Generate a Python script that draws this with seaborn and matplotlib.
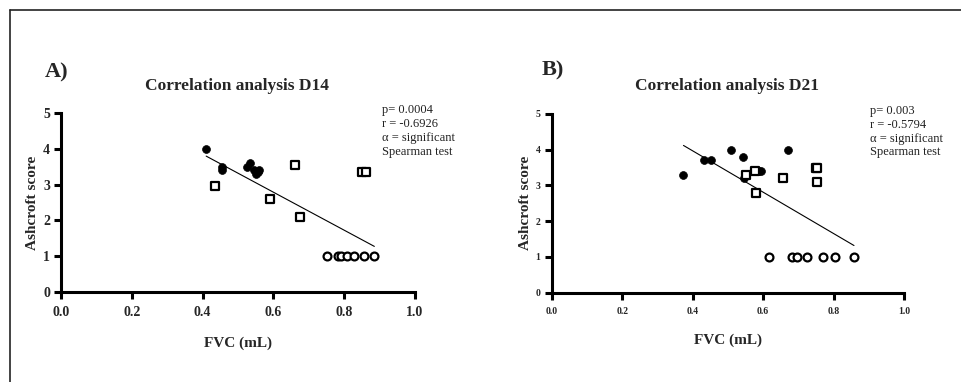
import matplotlib
matplotlib.use("Agg")
import matplotlib.pyplot as plt
import seaborn as sns
from matplotlib.lines import Line2D

# Panel A (D14)
a_filled_x = [0.41, 0.455, 0.455, 0.525, 0.535, 0.545, 0.55, 0.555, 0.56]
a_filled_y = [4.0, 3.5, 3.4, 3.5, 3.6, 3.4, 3.3, 3.35, 3.4]
a_square_x = [0.435, 0.59, 0.66, 0.675, 0.849, 0.861]
a_square_y = [2.95, 2.6, 3.55, 2.1, 3.35, 3.35]
a_open_x = [0.75, 0.783, 0.79, 0.807, 0.828, 0.856, 0.884]
a_open_y = [1, 1, 1, 1, 1, 1, 1]
a_fit_x = [0.41, 0.885]
a_fit_y = [3.8, 1.27]
a_stats = ["p= 0.0004", "r = -0.6926", "\u03b1 = significant", "Spearman test"]

# Panel B (D21)
b_filled_x = [0.372, 0.432, 0.451, 0.508, 0.544, 0.547, 0.588, 0.593, 0.672]
b_filled_y = [3.3, 3.7, 3.7, 4.0, 3.8, 3.2, 3.4, 3.4, 4.0]
b_square_x = [0.551, 0.577, 0.580, 0.656, 0.750, 0.754, 0.754]
b_square_y = [3.3, 3.4, 2.8, 3.2, 3.5, 3.5, 3.1]
b_open_x = [0.616, 0.683, 0.697, 0.726, 0.769, 0.804, 0.858]
b_open_y = [1, 1, 1, 1, 1, 1, 1]
b_fit_x = [0.374, 0.858]
b_fit_y = [4.12, 1.32]
b_stats = ["p= 0.003", "r = -0.5794", "\u03b1 = significant", "Spearman test"]

x_ticks = [0.0, 0.2, 0.4, 0.6, 0.8, 1.0]
y_ticks = [0, 1, 2, 3, 4, 5]

sns.set_theme(style="ticks")
plt.rcParams["font.family"] = ["Liberation Serif", "DejaVu Serif"]

fig = plt.figure(figsize=(9.61, 3.82), dpi=100)
fig.add_artist(Line2D([0.0099, 1.0], [0.975, 0.975], color="#222222", lw=1.2))
fig.add_artist(Line2D([0.0099, 0.0099], [0.0, 0.975], color="#222222", lw=1.2))


def draw_panel(ax, fx, fy, sx, sy, ox, oy, lx, ly, stats, tick_size, stats_x):
    sns.scatterplot(x=fx, y=fy, ax=ax, color="black", marker="o", s=32,
                    edgecolor="black", linewidth=0.5, clip_on=False, zorder=3)
    sns.scatterplot(x=sx, y=sy, ax=ax, marker="s", s=38, facecolor="white",
                    edgecolor="black", linewidth=1.6, clip_on=False, zorder=4)
    sns.scatterplot(x=ox, y=oy, ax=ax, marker="o", s=32, facecolor="white",
                    edgecolor="black", linewidth=1.6, clip_on=False, zorder=4)
    sns.lineplot(x=lx, y=ly, ax=ax, color="black", linewidth=0.8, zorder=2)
    ax.set_xlim(0, 1)
    ax.set_ylim(0, 5)
    ax.set_xticks(x_ticks)
    ax.set_yticks(y_ticks)
    ax.set_xticklabels([f"{t:.1f}" for t in x_ticks], fontweight="bold", fontsize=tick_size)
    ax.set_yticklabels([str(t) for t in y_ticks], fontweight="bold", fontsize=tick_size)
    sns.despine(ax=ax)
    for side in ("left", "bottom"):
        ax.spines[side].set_linewidth(2.2)
        ax.spines[side].set_color("black")
    ax.tick_params(direction="out", length=5, width=2.2, color="black", pad=3)
    ax.tick_params(axis="x", pad=5)
    ax.set_xlabel("FVC (mL)", fontweight="bold", fontsize=11, labelpad=13)
    ax.set_ylabel("Ashcroft score", fontweight="bold", fontsize=11, labelpad=3)
    ax.text(stats_x, 1.05, "\n".join(stats), transform=ax.transAxes, ha="left",
            va="top", fontsize=9, linespacing=1.2, color="#222222")


ax_a = fig.add_axes([0.0635, 0.2364, 0.3684, 0.467])
draw_panel(ax_a, a_filled_x, a_filled_y, a_square_x, a_square_y, a_open_x, a_open_y,
           a_fit_x, a_fit_y, a_stats, 10, 0.906)
ax_b = fig.add_axes([0.5741, 0.2338, 0.3666, 0.4678])
draw_panel(ax_b, b_filled_x, b_filled_y, b_square_x, b_square_y, b_open_x, b_open_y,
           b_fit_x, b_fit_y, b_stats, 7, 0.903)

fig.text(0.047, 0.81, "A)", fontsize=16, fontweight="bold", va="center", ha="left")
fig.text(0.247, 0.775, "Correlation analysis D14", fontsize=12.5, fontweight="bold",
         va="center", ha="center")
fig.text(0.564, 0.815, "B)", fontsize=16, fontweight="bold", va="center", ha="left")
fig.text(0.756, 0.775, "Correlation analysis D21", fontsize=12.5, fontweight="bold",
         va="center", ha="center")

fig.savefig("out.png", dpi=100)
